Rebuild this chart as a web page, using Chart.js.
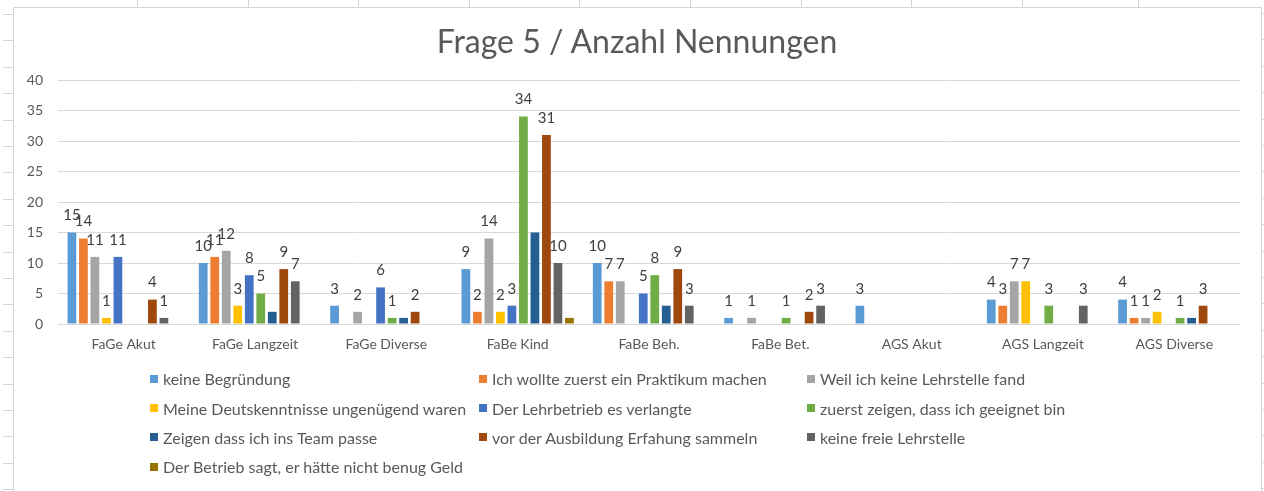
<!DOCTYPE html>
<html><head><meta charset="utf-8">
<script src="https://cdn.jsdelivr.net/npm/chart.js@4.4.1/dist/chart.umd.min.js"></script>
<style>
html,body{margin:0;padding:0;background:#fff;width:1264px;height:491px;overflow:hidden;}
#wrap{position:relative;width:1264px;height:491px;}
canvas{position:absolute;left:0;top:0;}
#title{position:absolute;left:13px;width:1248px;top:22px;line-height:38px;text-align:center;font-family:Lato, sans-serif;font-size:32px;color:#595959;}
#legend{position:absolute;left:150px;top:364px;display:grid;grid-template-columns:329px 328px 329px;grid-auto-rows:29.4px;font-family:Lato, sans-serif;font-size:16px;color:#595959;}
.item{display:flex;align-items:center;white-space:nowrap;}
.sw{width:8px;height:8px;margin-right:5px;flex:none;}
</style></head><body>
<div id="wrap"><canvas id="c" width="1264" height="491"></canvas><div id="title"></div><div id="legend"></div></div>
<script>
const chartTitle = "Frage 5 / Anzahl Nennungen";
const categories = ["FaGe Akut","FaGe Langzeit","FaGe Diverse","FaBe Kind","FaBe Beh.","FaBe Bet.","AGS Akut","AGS Langzeit","AGS Diverse"];
const seriesNames = [
  "keine Begründung",
  "Ich wollte zuerst ein Praktikum machen",
  "Weil ich keine Lehrstelle fand",
  "Meine Deutskenntnisse ungenügend waren",
  "Der Lehrbetrieb es verlangte",
  "zuerst zeigen, dass ich geeignet bin",
  "Zeigen dass ich ins Team passe",
  "vor der Ausbildung Erfahung sammeln",
  "keine freie Lehrstelle",
  "Der Betrieb sagt, er hätte nicht benug Geld"
];
const seriesColors = ["#5B9BD5","#ED7D31","#A5A5A5","#FFC000","#4472C4","#70AD47","#255E91","#9E480E","#636363","#997300"];
const showValueLabel = [true,true,true,true,true,true,false,true,true,false];

const keineBegruendung     = [15,10,3,9,10,1,3,4,4];
const praktikum            = [14,11,null,2,7,null,null,3,1];
const keineLehrstelleFand  = [11,12,2,14,7,1,null,7,1];
const deutschkenntnisse    = [1,3,null,2,null,null,null,7,2];
const lehrbetriebVerlangte = [11,8,6,3,5,null,null,null,null];
const geeignet             = [null,5,1,34,8,1,null,3,1];
const teamPasse            = [null,2,1,15,3,null,null,null,1];
const erfahrung            = [4,9,2,31,9,2,null,null,3];
const keineFreieLehrstelle = [1,7,null,10,3,3,null,3,null];
const nichtGenugGeld       = [null,null,null,1,null,null,null,null,null];
const yTicks = [0,5,10,15,20,25,30,35,40];

const seriesValues = [keineBegruendung,praktikum,keineLehrstelleFand,deutschkenntnisse,lehrbetriebVerlangte,geeignet,teamPasse,erfahrung,keineFreieLehrstelle,nichtGenugGeld];

const datasets = seriesValues.map((vals,i)=>({
  label: seriesNames[i],
  data: vals,
  backgroundColor: seriesColors[i],
  borderWidth: 0,
  categoryPercentage: 0.876,
  barPercentage: 0.76
}));

const sheetFrame = {
  id:'sheetFrame',
  beforeDraw(chart){
    const ctx = chart.ctx;
    ctx.save();
    ctx.strokeStyle = '#d4d4d4';
    ctx.lineWidth = 1;
    ctx.beginPath();
    ctx.moveTo(13.5, 491); ctx.lineTo(13.5, 7.5); ctx.lineTo(1261.5, 7.5); ctx.lineTo(1261.5, 491);
    for(let k=0;k<19;k++){
      const y = Math.round(14 + 26.4*k) + 0.5;
      ctx.moveTo(3, y); ctx.lineTo(13, y);
      ctx.moveTo(1262, y-1); ctx.lineTo(1264, y-1);
    }
    [137,248,358,469,579,690,801,911,1022,1138].forEach(x=>{
      ctx.moveTo(x+0.5, 0); ctx.lineTo(x+0.5, 7);
    });
    ctx.stroke();
    ctx.restore();
  }
};

const valueLabels = {
  id:'valueLabels',
  afterDatasetsDraw(chart){
    const ctx = chart.ctx;
    ctx.save();
    ctx.font = '15px Lato, sans-serif';
    ctx.fillStyle = '#404040';
    ctx.textAlign = 'center';
    ctx.textBaseline = 'middle';
    chart.data.datasets.forEach((ds,i)=>{
      if(!showValueLabel[i]) return;
      const meta = chart.getDatasetMeta(i);
      meta.data.forEach((bar,j)=>{
        const v = ds.data[j];
        if(v===null || v===undefined) return;
        ctx.fillText(String(v), bar.x, bar.y - 17);
      });
    });
    ctx.restore();
  }
};

new Chart(document.getElementById('c'), {
  type:'bar',
  data:{ labels: categories, datasets },
  options:{
    responsive:false,
    animation:false,
    devicePixelRatio:1,
    layout:{ padding:{ left:13, right:24, top:80, bottom:127 } },
    plugins:{
      legend:{ display:false },
      tooltip:{ enabled:false },
      title:{ display:false }
    },
    scales:{
      x:{
        grid:{ display:false },
        border:{ display:false },
        ticks:{ color:'#595959', font:{ family:'Lato, sans-serif', size:14 }, padding:4 },
        afterFit(scale){ scale.height = 40; }
      },
      y:{
        min:0, max:40,
        afterBuildTicks(scale){ scale.ticks = yTicks.map(v=>({value:v})); },
        ticks:{ color:'#595959', font:{ family:'Lato, sans-serif', size:14 }, padding:15 },
        grid:{ color:'#d9d9d9', drawTicks:false, lineWidth:1 },
        border:{ display:false },
        afterFit(scale){ scale.width = 45; }
      }
    }
  },
  plugins:[sheetFrame, valueLabels]
});

document.getElementById('title').textContent = chartTitle;
const legendEl = document.getElementById('legend');
seriesNames.forEach((name,i)=>{
  const it = document.createElement('div');
  it.className = 'item';
  const sw = document.createElement('span');
  sw.className = 'sw';
  sw.style.background = seriesColors[i];
  const tx = document.createElement('span');
  tx.textContent = name;
  it.appendChild(sw); it.appendChild(tx);
  legendEl.appendChild(it);
});
</script>
</body></html>
